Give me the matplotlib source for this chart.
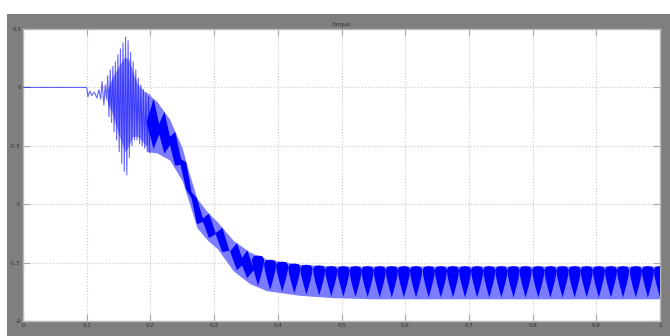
import numpy as np
import matplotlib.pyplot as plt
from matplotlib.patches import Rectangle

# transient: flat, then growing oscillation (extremes)
osc_t = [0.0, 0.100, 0.102, 0.105, 0.108, 0.112, 0.116, 0.119, 0.122, 0.124, 0.127,
         0.129, 0.131, 0.133, 0.135, 0.137, 0.139, 0.141, 0.143, 0.145, 0.147,
         0.149, 0.151, 0.153, 0.155, 0.157, 0.159, 0.161, 0.163, 0.165, 0.167,
         0.169, 0.171, 0.173, 0.175, 0.177, 0.179, 0.181, 0.183, 0.185, 0.187,
         0.189, 0.191, 0.193, 0.195, 0.197, 0.199]
osc_v = [0.0, 0.0, -0.08, -0.03, -0.07, -0.04, -0.09, -0.02, -0.10, 0.05, -0.15,
         0.02, -0.10, 0.10, -0.25, 0.15, -0.30, 0.18, -0.38, 0.22, -0.45,
         0.28, -0.55, 0.33, -0.65, 0.38, -0.72, 0.43, -0.75, 0.40, -0.60,
         0.30, -0.50, 0.22, -0.45, 0.15, -0.45, 0.08, -0.48, 0.02, -0.50,
         -0.02, -0.52, -0.05, -0.55, -0.08, -0.56]

# dense core of the transient (shows up light)
env_t = [0.132, 0.14, 0.15, 0.16, 0.166, 0.172, 0.18, 0.19, 0.2]
env_hi = [-0.02, 0.08, 0.18, 0.26, 0.24, 0.14, 0.03, -0.03, -0.06]
env_lo = [-0.12, -0.22, -0.40, -0.55, -0.50, -0.42, -0.42, -0.48, -0.54]

# ripple band after the transient
band_t = [0.195, 0.21, 0.23, 0.25, 0.26, 0.273, 0.29, 0.305, 0.33, 0.356, 0.382,
          0.434, 0.485, 0.55, 1.0]
band_hi = [-0.05, -0.12, -0.27, -0.52, -0.72, -0.95, -1.07, -1.15, -1.31, -1.41, -1.47,
           -1.515, -1.53, -1.53, -1.53]
band_lo = [-0.55, -0.56, -0.62, -0.80, -0.97, -1.20, -1.31, -1.38, -1.57, -1.68, -1.74,
           -1.78, -1.80, -1.81, -1.81]

# dark beat pattern
diamond_t = [0.205, 0.222, 0.239, 0.256, 0.273, 0.292, 0.313, 0.336, 0.352]
tooth_t = [0.369, 0.388, 0.407, 0.426, 0.445, 0.465, 0.484, 0.503, 0.522, 0.541,
           0.560, 0.579, 0.598, 0.617, 0.637, 0.656, 0.675, 0.694, 0.713, 0.732,
           0.751, 0.770, 0.789, 0.809, 0.828, 0.847, 0.866, 0.885, 0.904, 0.923,
           0.942, 0.962, 0.981, 1.000]

xticks = [0, 0.1, 0.2, 0.3, 0.4, 0.5, 0.6, 0.7, 0.8, 0.9, 1]
xlabels = ['0', '0.1', '0.2', '0.3', '0.4', '0.5', '0.6', '0.7', '0.8', '0.9', '1']
yticks = [-2, -1.5, -1, -0.5, 0, 0.5]
ylabels = ['-2', '-1.5', '-1', '-0.5', '0', '0.5']

dark = '#0000ff'
light = '#7c7cff'

fig = plt.figure(figsize=(6.7, 3.36), dpi=100)
fig.patch.set_facecolor('white')
fig.patches.append(Rectangle((7 / 670, 0), 1, 322 / 336, transform=fig.transFigure,
                             facecolor='#7f7f7f', edgecolor='none', zorder=-10))
ax = fig.add_axes([23 / 670, 15 / 336, 637 / 670, 292 / 336])
ax.set_zorder(5)
ax.set_facecolor('white')

ax.fill_between(env_t, env_hi, env_lo, color='#9a9aff', lw=0, zorder=2)
ax.fill_between(band_t, band_hi, band_lo, color=light, lw=0, zorder=2)
ax.plot(osc_t, osc_v, color=dark, lw=0.8, alpha=0.6, zorder=3)

bt = np.array(band_t)
for t in diamond_t:
    w = 0.022
    u = np.interp([t - w / 2, t, t + w / 2], bt, band_hi)
    l = np.interp([t - w / 2, t, t + w / 2], bt, band_lo)
    xs = [t - w / 2, t, t + w / 2, t]
    ys = [(u[0] + l[0]) / 2, u[1], (u[2] + l[2]) / 2, l[1] + 0.03]
    ax.fill(xs, ys, color=dark, lw=0, zorder=3)

for t in tooth_t:
    w = 0.0191
    u = np.interp(t, bt, band_hi)
    l = np.interp(t, bt, band_lo)
    d = u - l
    fx = [-0.5, -0.45, -0.3, 0, 0.3, 0.45, 0.5, 0.35, 0, -0.35]
    fy = [u - 0.12 * d, u - 0.3 * d, u - 0.55 * d, l + 0.04 * d, u - 0.55 * d,
          u - 0.3 * d, u - 0.12 * d, u - 0.02 * d, u, u - 0.02 * d]
    ax.fill([t + f * w for f in fx], fy, color=dark, lw=0, zorder=3)

ax.set_xlim(0, 1)
ax.set_ylim(-2, 0.5)
ax.set_xticks(xticks)
ax.set_xticklabels(xlabels)
ax.set_yticks(yticks)
ax.set_yticklabels(ylabels)
ax.grid(True, color='#c8c8c8', linestyle=':', lw=0.8)
ax.set_axisbelow(True)
ax.tick_params(direction='in', length=5, width=0.8, color='#a8a8a8',
               labelsize=4, labelcolor='#303030', pad=1.5, top=True, right=True)
for s in ax.spines.values():
    s.set_color('#b8b8b8')
    s.set_linewidth(1)
ax.set_title('torque', fontsize=4, color='#303030', pad=2)

fig.savefig('out.png', dpi=100)
